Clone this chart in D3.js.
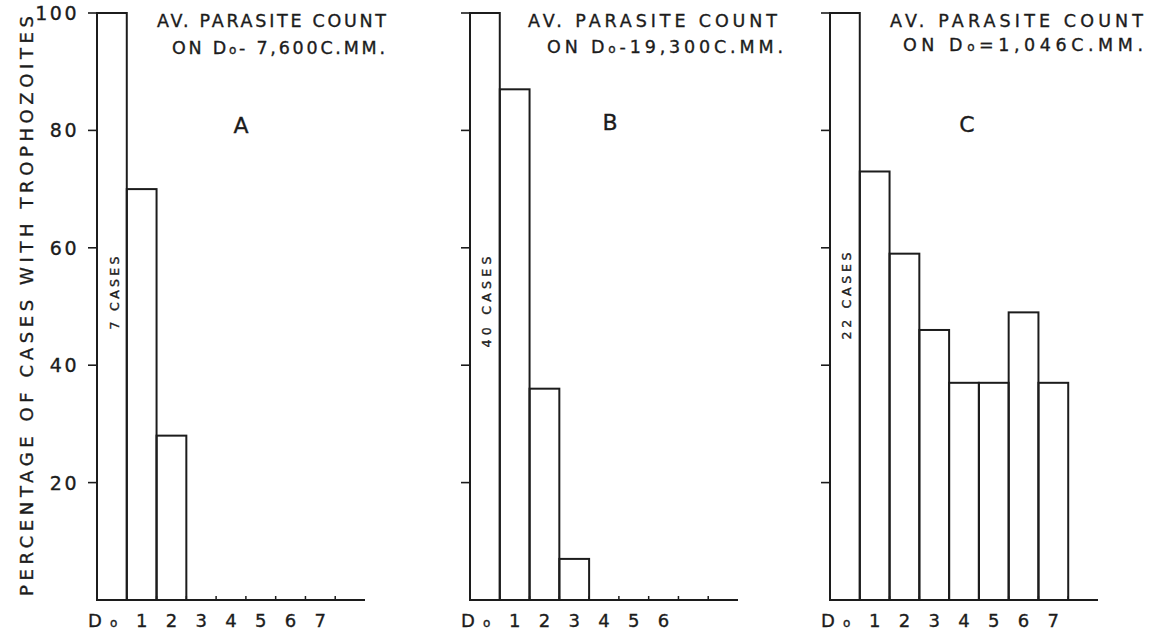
<!DOCTYPE html>
<html>
<head>
<meta charset="utf-8">
<script src="https://cdn.jsdelivr.net/npm/d3@7"></script>
<style>
  html, body { margin: 0; padding: 0; background: #ffffff; }
  svg text { font-family: "DejaVu Sans", sans-serif; fill: #1c1c1c; stroke: #1c1c1c; stroke-width: 0.35px; }
</style>
</head>
<body>
<svg id="chart" width="1158" height="630"></svg>
<script>
// ---------- data ----------
const days = ["Do", "1", "2", "3", "4", "5", "6", "7", ""];
const valuesA = [100, 70, 28];
const valuesB = [100, 87, 36, 7];
const valuesC = [100, 73, 59, 46, 37, 37, 49, 37];
const labelsA = ["Do", "1", "2", "3", "4", "5", "6", "7"];
const labelsB = ["Do", "1", "2", "3", "4", "5", "6"];
const labelsC = ["Do", "1", "2", "3", "4", "5", "6", "7"];
const yTicks = [20, 40, 60, 80, 100];
const yTickLabels = ["20", "40", "60", "80", "100"];
const titleLine1 = ["AV. PARASITE COUNT", "AV. PARASITE COUNT", "AV. PARASITE COUNT"];
const titleLine2 = [["ON D", "o", "- 7,600C.MM."], ["ON D", "o", "-19,300C.MM."], ["ON D", "o", "=1,046C.MM."]];
const panelLetters = ["A", "B", "C"];
const caseLabels = ["7 CASES", "40 CASES", "22 CASES"];
const yTitle = "PERCENTAGE OF CASES WITH TROPHOZOITES";

// ---------- layout ----------
const layout = [
  { x0: 97,  showYLabels: true,  t1x: 157, t1w: 229, t2x: 172, t2w: 213, t2y: 54, lx: 241, ly: 133, cx: 114, cy: 293, cw: 73 },
  { x0: 470, showYLabels: false, t1x: 528, t1w: 249, t2x: 547, t2w: 236, t2y: 53, lx: 610, ly: 130, cx: 486, cy: 302, cw: 91 },
  { x0: 830, showYLabels: false, t1x: 890, t1w: 253, t2x: 903, t2w: 240, t2y: 51, lx: 967, ly: 132, cx: 846, cy: 296, cw: 87 }
];
const panels = [
  { values: valuesA, labels: labelsA },
  { values: valuesB, labels: labelsB },
  { values: valuesC, labels: labelsC }
];

const svg = d3.select("#chart");
const ink = "#1c1c1c";
const y = d3.scaleLinear().domain([0, 100]).range([600, 13]);

panels.forEach((p, pi) => {
  const L = layout[pi];
  const x = d3.scaleBand().domain(days).range([L.x0, L.x0 + 268]).padding(0);
  const g = svg.append("g");

  // bars
  g.selectAll("rect.bar").data(p.values).enter().append("rect")
    .attr("class", "bar")
    .attr("x", (d, i) => x(days[i]))
    .attr("y", d => y(d))
    .attr("width", x.bandwidth())
    .attr("height", d => y(0) - y(d))
    .attr("fill", "none")
    .attr("stroke", ink)
    .attr("stroke-width", 2);

  // baseline
  g.append("line")
    .attr("x1", L.x0).attr("x2", L.x0 + 268)
    .attr("y1", y(0)).attr("y2", y(0))
    .attr("stroke", ink).attr("stroke-width", 2);

  // x ticks (small, upward) at bin boundaries
  g.selectAll("line.xt").data(days.slice(1)).enter().append("line")
    .attr("x1", d => x(d)).attr("x2", d => x(d))
    .attr("y1", y(0)).attr("y2", y(0) - 4)
    .attr("stroke", ink).attr("stroke-width", 1.5);

  // y ticks
  g.selectAll("line.yt").data(yTicks).enter().append("line")
    .attr("x1", L.x0 - 9).attr("x2", L.x0)
    .attr("y1", d => y(d)).attr("y2", d => y(d))
    .attr("stroke", ink).attr("stroke-width", 1.6);

  if (L.showYLabels) {
    g.selectAll("text.yl").data(yTicks).enter().append("text")
      .attr("x", L.x0 - 18)
      .attr("y", d => y(d) + 7)
      .attr("text-anchor", "end")
      .attr("font-size", 19)
      .attr("letter-spacing", 2.5)
      .text((d, i) => yTickLabels[i]);
  }

  // x labels
  p.labels.forEach((lab, i) => {
    const bx = x(days[i]);
    if (lab === "Do") {
      const t = g.append("text")
        .attr("x", bx - 9).attr("y", 627)
        .attr("font-size", 18);
      t.append("tspan").text("D");
      t.append("tspan").attr("font-size", 12).attr("dx", 8).text("o");
    } else {
      g.append("text")
        .attr("x", bx + x.bandwidth() / 2).attr("y", 627)
        .attr("text-anchor", "middle")
        .attr("font-size", 18)
        .text(lab);
    }
  });

  // titles
  g.append("text")
    .attr("x", L.t1x).attr("y", 27)
    .attr("font-size", 17.5)
    .attr("textLength", L.t1w).attr("lengthAdjust", "spacing")
    .text(titleLine1[pi]);
  const t2 = g.append("text")
    .attr("x", L.t2x).attr("y", L.t2y)
    .attr("font-size", 17.5)
    .attr("textLength", L.t2w).attr("lengthAdjust", "spacing");
  t2.append("tspan").text(titleLine2[pi][0]);
  t2.append("tspan").attr("font-size", 12).text(titleLine2[pi][1]);
  t2.append("tspan").text(titleLine2[pi][2]);

  // panel letter
  g.append("text")
    .attr("x", L.lx).attr("y", L.ly)
    .attr("text-anchor", "middle")
    .attr("font-size", 22)
    .text(panelLetters[pi]);

  // cases label inside first bar
  g.append("text")
    .attr("transform", `translate(${L.cx + 5},${L.cy}) rotate(-90)`)
    .attr("text-anchor", "middle")
    .attr("font-size", 12.5)
    .attr("textLength", L.cw).attr("lengthAdjust", "spacing")
    .text(caseLabels[pi]);
});

// y axis title
svg.append("text")
  .attr("transform", "translate(33,306) rotate(-90)")
  .attr("text-anchor", "middle")
  .attr("font-size", 18)
  .attr("textLength", 580).attr("lengthAdjust", "spacing")
  .text(yTitle);
</script>
</body>
</html>
